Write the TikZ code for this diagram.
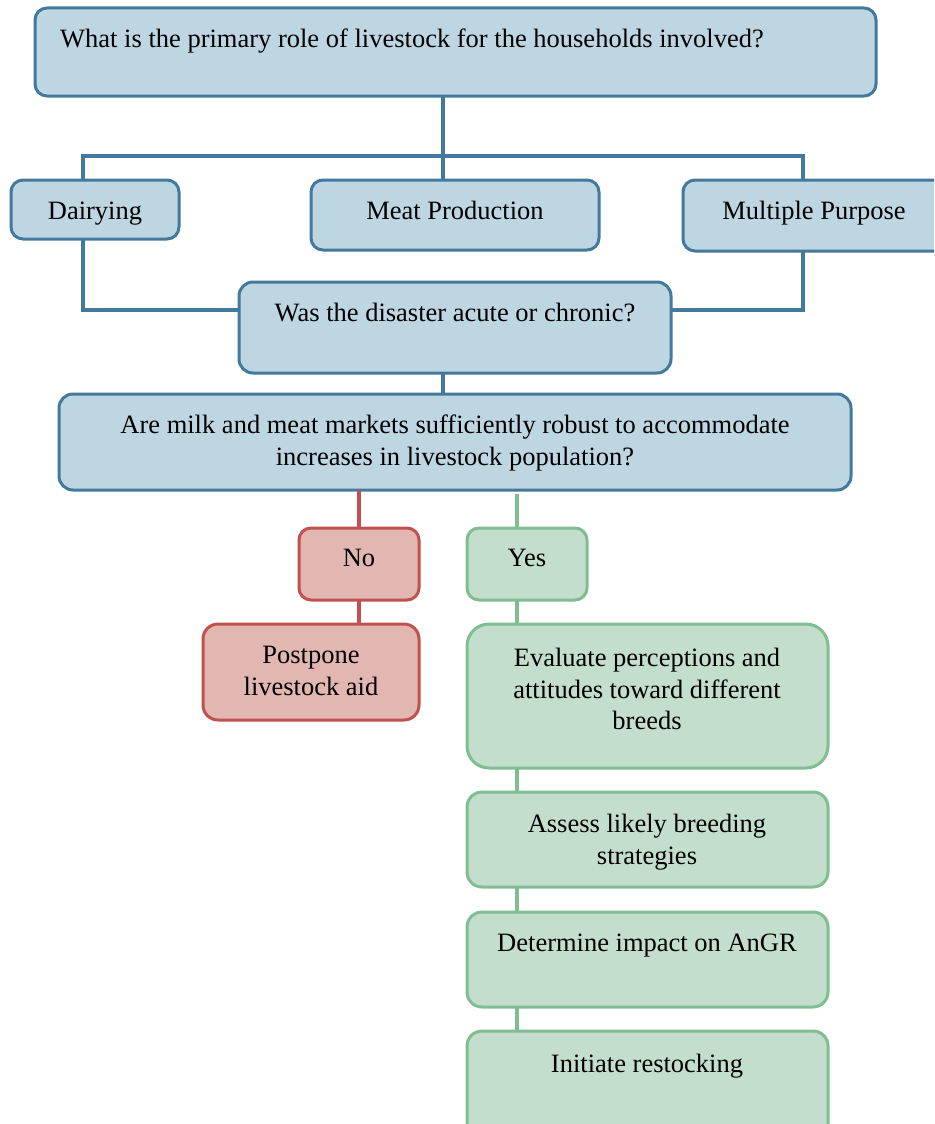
\documentclass[tikz,border=0pt]{standalone}
\usepackage{fontspec}
\setmainfont{Liberation Serif}
\definecolor{bfill}{RGB}{190,214,226}
\definecolor{bdraw}{RGB}{66,121,156}
\definecolor{rfill}{RGB}{227,183,177}
\definecolor{rdraw}{RGB}{192,81,78}
\definecolor{gfill}{RGB}{195,222,205}
\definecolor{gdraw}{RGB}{128,190,146}
\tikzset{
  boxbase/.style={rectangle, rounded corners=12pt, line width=3pt, anchor=north west, inner sep=0pt, outer sep=0pt},
  bbox/.style={boxbase, draw=bdraw, fill=bfill},
  rbox/.style={boxbase, draw=rdraw, fill=rfill},
  gbox/.style={boxbase, draw=gdraw, fill=gfill},
  bline/.style={draw=bdraw, line width=3.5pt},
  rline/.style={draw=rdraw, line width=3.5pt},
  gline/.style={draw=gdraw, line width=3.5pt},
  txt/.style={inner sep=0pt, font=\fontsize{26.5pt}{31.5pt}\selectfont, align=center}
}
\begin{document}
\begin{tikzpicture}[x=1pt,y=-1pt]
\useasboundingbox (0,0) rectangle (934,1124);
\clip (0,0) rectangle (934,1124);
% junction coordinates
\coordinate (j1) at (443,156);
\coordinate (jl) at (83,156);
\coordinate (jr) at (803,156);
\coordinate (jl2) at (83,310);
\coordinate (jr2) at (803,310);
\coordinate (gy) at (517,494);
% boxes
\node[bbox, minimum width=841pt, minimum height=88pt] (q1) at (35,8) {};
\node[bbox, minimum width=168pt, minimum height=59pt] (dai) at (11,180) {};
\node[bbox, minimum width=288pt, minimum height=70pt] (meat) at (311,180) {};
\node[bbox, minimum width=270pt, minimum height=71pt] (multi) at (683,180) {};
\node[bbox, minimum width=432pt, minimum height=91pt, rounded corners=14pt] (q2) at (239,282) {};
\node[bbox, minimum width=792pt, minimum height=96pt, rounded corners=14pt] (q3) at (59,394) {};
\node[rbox, minimum width=120pt, minimum height=72pt] (no) at (299,528) {};
\node[gbox, minimum width=120pt, minimum height=72pt] (yes) at (467,528) {};
\node[rbox, minimum width=216pt, minimum height=96pt, rounded corners=15pt] (post) at (203,624) {};
\node[gbox, minimum width=361pt, minimum height=144pt, rounded corners=22pt] (eval) at (467,624) {};
\node[gbox, minimum width=361pt, minimum height=95pt, rounded corners=15pt] (assess) at (467,792) {};
\node[gbox, minimum width=361pt, minimum height=95pt, rounded corners=15pt] (determ) at (467,912) {};
\node[gbox, minimum width=361pt, minimum height=110pt, rounded corners=15pt] (init) at (467,1031) {};
% connectors
\draw[bline] (j1 |- q1.south) -- (j1 |- meat.north);
\draw[bline] (jl |- dai.north) -- (jl) -- (jr) -- (jr |- multi.north);
\draw[bline] (jl |- dai.south) -- (jl2) -- (jl2 -| q2.west);
\draw[bline] (jr |- multi.south) -- (jr2) -- (jr2 -| q2.east);
\draw[bline] (j1 |- q2.south) -- (j1 |- q3.north);
\draw[rline] (no.north |- q3.south) -- (no.north);
\draw[rline] (no.south) -- (no.south |- post.north);
\draw[gline] (gy) -- (gy |- yes.north);
\draw[gline] (gy |- yes.south) -- (gy |- eval.north);
\draw[gline] (gy |- eval.south) -- (gy |- assess.north);
\draw[gline] (gy |- assess.south) -- (gy |- determ.north);
\draw[gline] (gy |- determ.south) -- (gy |- init.north);
% texts
\node[txt, anchor=base west] (q1t) at (60,48) {What is the primary role of livestock for the households involved?};
\node[txt, anchor=base] (dait) at (95,219) {Dairying};
\node[txt, anchor=base] (meatt) at (455,219) {Meat Production};
\node[txt, anchor=base] (multit) at (814,219) {Multiple Purpose};
\node[txt, anchor=base] (q2t) at (455,321) {Was the disaster acute or chronic?};
\node[txt, anchor=north] (q3t) at (455,415) {Are milk and meat markets sufficiently robust to accommodate\\increases in livestock population?};
\node[txt, anchor=base] (not) at (359,566) {No};
\node[txt, anchor=base] (yest) at (527,566) {Yes};
\node[txt, anchor=north] (postt) at (311,646) {Postpone\\livestock aid};
\node[txt, anchor=north] (evalt) at (647,648) {Evaluate perceptions and\\attitudes toward different\\breeds};
\node[txt, anchor=north] (assesst) at (647,814) {Assess likely breeding\\strategies};
\node[txt, anchor=base] (determt) at (647,951) {Determine impact on AnGR};
\node[txt, anchor=base] (initt) at (647,1072) {Initiate restocking};
\end{tikzpicture}
\end{document}
